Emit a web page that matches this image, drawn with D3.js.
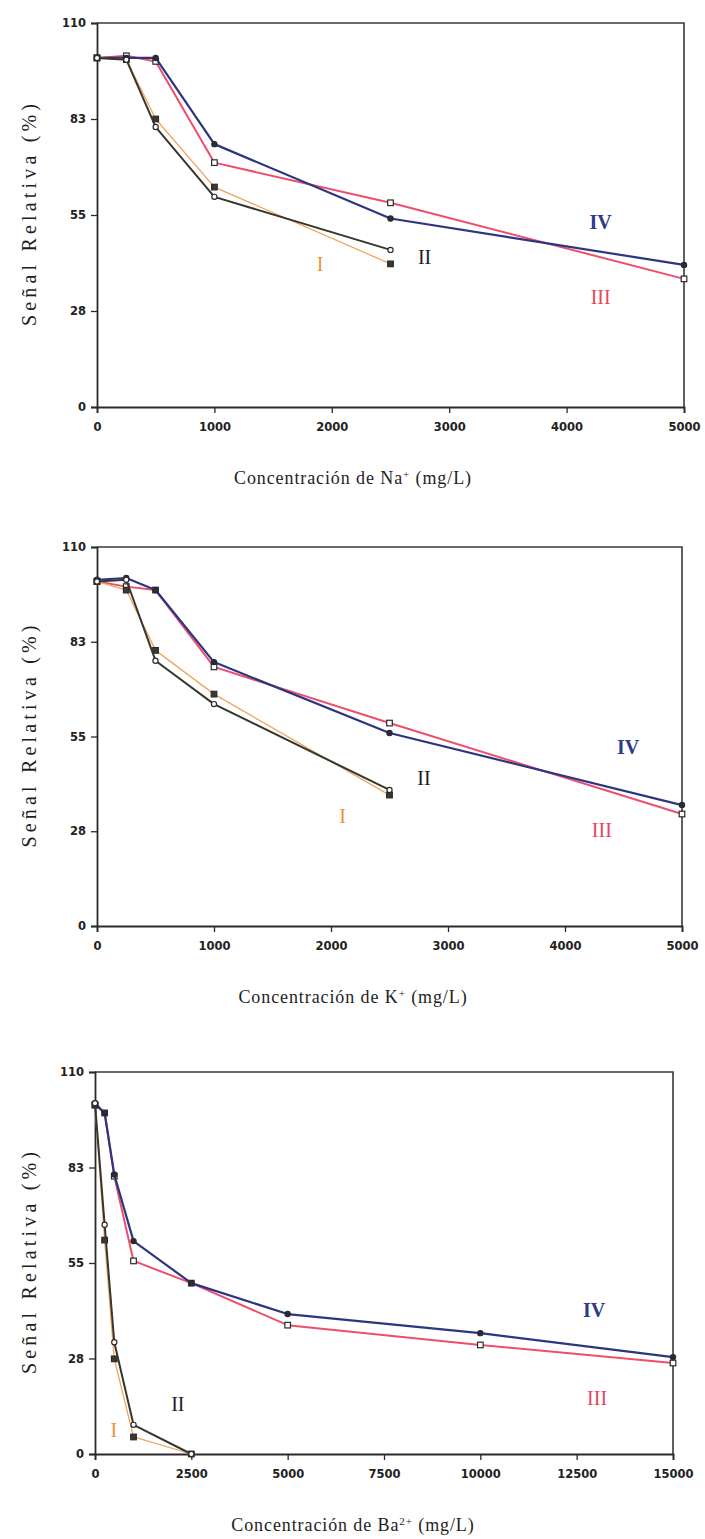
<!DOCTYPE html>
<html>
<head>
<meta charset="utf-8">
<script src="https://cdn.jsdelivr.net/npm/d3@7/dist/d3.min.js"></script>
<style>
  html, body { margin: 0; padding: 0; background: #ffffff; }
  svg { display: block; }
</style>
</head>
<body>
<script>
// Concentrations (mg/L)
const naConc = [0, 250, 500, 1000, 2500, 5000];
const kConc = [0, 250, 500, 1000, 2500, 5000];
const baConc = [0, 250, 500, 1000, 2500, 5000, 10000, 15000];

// Relative signal (%) for each condition I–IV
const naI = [100, 99.5, 82.5, 63, 41];
const naII = [100, 99.5, 80.2, 60.2, 45];
const naIII = [100, 100.6, 99, 70, 58.5, 36.7];
const naIV = [100, 100, 100, 75.3, 54, 40.7];

const kI = [100, 97.5, 80, 67.3, 38];
const kII = [100, 100.5, 77, 64.4, 39.5];
const kIII = [100, 98.5, 97.5, 75.2, 58.9, 32.5];
const kIV = [100.5, 101, 97.5, 76.6, 56, 35.1];

const baI = [100.5, 61.6, 27.4, 4.9, 0];
const baII = [101, 66, 32.2, 8.4, 0];
const baIII = [100.5, 98.2, 80, 55.6, 49.2, 37.1, 31.4, 26.2];
const baIV = [101, 98.2, 80.5, 61.3, 49.2, 40.3, 34.8, 27.9];

// Axis ticks
const yTickValues = [0, 27.5, 55, 82.5, 110];
const yTickLabels = ["0", "28", "55", "83", "110"];
const naTicks = [0, 1000, 2000, 3000, 4000, 5000];
const kTicks = [0, 1000, 2000, 3000, 4000, 5000];
const baTicks = [0, 2500, 5000, 7500, 10000, 12500, 15000];

const seriesNames = ["I", "II", "III", "IV"];

const W = 705, H = 1539;
const svg = d3.select("body").append("svg").attr("width", W).attr("height", H);

const style = {
  I:   { line: "#f2a45c", width: 1.3, marker: "square", fill: "#3a3a30", label: "#f0913a", weight: "normal" },
  II:  { line: "#35372f", width: 2.0, marker: "circle", fill: "#ffffff", label: "#1e1e1e", weight: "normal" },
  III: { line: "#ef4d6c", width: 2.0, marker: "square", fill: "#ffffff", label: "#e8455e", weight: "normal" },
  IV:  { line: "#2c3580", width: 2.2, marker: "circle", fill: "#2a2a3a", label: "#2e3a8c", weight: "bold" }
};

const panels = [
  {
    box: { left: 97, right: 684, top: 23, bottom: 407 },
    xMax: 5000, ticks: naTicks,
    series: { I: [naConc, naI], II: [naConc, naII], III: [naConc, naIII], IV: [naConc, naIV] },
    labels: { IV: [4290, 53], III: [4290, 31.5], II: [2790, 43], I: [1900, 41] },
    title: ["Concentración de Na", "+", " (mg/L)"]
  },
  {
    box: { left: 97, right: 682, top: 547, bottom: 926 },
    xMax: 5000, ticks: kTicks,
    series: { I: [kConc, kI], II: [kConc, kII], III: [kConc, kIII], IV: [kConc, kIV] },
    labels: { IV: [4540, 52], III: [4315, 28], II: [2795, 43], I: [2100, 32] },
    title: ["Concentración de K", "+", " (mg/L)"]
  },
  {
    box: { left: 95, right: 673, top: 1072, bottom: 1454 },
    xMax: 15000, ticks: baTicks,
    series: { I: [baConc, baI], II: [baConc, baII], III: [baConc, baIII], IV: [baConc, baIV] },
    labels: { IV: [12950, 41.5], III: [13030, 16], II: [2150, 14.4], I: [490, 6.9] },
    title: ["Concentración de Ba", "2+", " (mg/L)"]
  }
];

const tickFont = "DejaVu Sans, Verdana, sans-serif";
const serif = "Liberation Serif, Times New Roman, serif";

panels.forEach(p => {
  const b = p.box;
  const x = d3.scaleLinear().domain([0, p.xMax]).range([b.left, b.right]);
  const y = d3.scaleLinear().domain([0, 110]).range([b.bottom, b.top]);
  const g = svg.append("g");

  // frame: top and right edges
  g.append("path")
    .attr("d", `M${b.left},${b.top}H${b.right}V${b.bottom}`)
    .attr("fill", "none").attr("stroke", "#3a3a3a").attr("stroke-width", 1.6);

  // x axis
  const xAxis = g.append("g").attr("transform", `translate(0,${b.bottom})`)
    .call(d3.axisBottom(x).tickValues(p.ticks).tickSize(6).tickPadding(10).tickFormat(d3.format("d")));
  xAxis.select(".domain").attr("stroke", "#2a2a2a").attr("stroke-width", 1.8);
  xAxis.selectAll(".tick line").attr("stroke", "#2a2a2a").attr("stroke-width", 1.3);
  xAxis.selectAll("text").attr("font-family", tickFont)
    .attr("font-weight", "bold").attr("font-size", 11.5).attr("fill", "#222");

  // y axis
  const yAxis = g.append("g").attr("transform", `translate(${b.left},0)`)
    .call(d3.axisLeft(y).tickValues(yTickValues).tickSize(6).tickPadding(5)
      .tickFormat((d, i) => yTickLabels[i]));
  yAxis.select(".domain").attr("stroke", "#2a2a2a").attr("stroke-width", 1.8);
  yAxis.selectAll(".tick line").attr("stroke", "#2a2a2a").attr("stroke-width", 1.3);
  yAxis.selectAll("text").attr("font-family", tickFont)
    .attr("font-weight", "bold").attr("font-size", 11.5).attr("fill", "#222");

  const line = d3.line().x(d => x(d[0])).y(d => y(d[1]));

  // draw in order so I/II sit above III/IV where they overlap
  ["III", "IV", "I", "II"].forEach(name => {
    const [cx, vals] = p.series[name];
    const pts = vals.map((v, i) => [cx[i], v]);
    const s = style[name];
    g.append("path").datum(pts).attr("d", line)
      .attr("fill", "none").attr("stroke", s.line).attr("stroke-width", s.width)
      .attr("stroke-linejoin", "round");
    const mk = g.append("g");
    pts.forEach(d => {
      if (s.marker === "circle") {
        mk.append("circle").attr("cx", x(d[0])).attr("cy", y(d[1])).attr("r", 2.6)
          .attr("fill", s.fill).attr("stroke", "#2a2a2a").attr("stroke-width", 1.2);
      } else {
        mk.append("rect").attr("x", x(d[0]) - 2.8).attr("y", y(d[1]) - 2.8)
          .attr("width", 5.6).attr("height", 5.6)
          .attr("fill", s.fill).attr("stroke", "#2a2a2a").attr("stroke-width", 1.2);
      }
    });
  });

  // series labels
  seriesNames.forEach(name => {
    const [lx, ly] = p.labels[name];
    const s = style[name];
    g.append("text").attr("x", x(lx)).attr("y", y(ly))
      .attr("text-anchor", "middle").attr("dominant-baseline", "central")
      .attr("font-family", serif)
      .attr("font-size", 20).attr("font-weight", s.weight).attr("fill", s.label)
      .text(name);
  });

  // y axis title
  const cy = (b.top + b.bottom) / 2;
  g.append("text")
    .attr("transform", `translate(36,${cy}) rotate(-90)`)
    .attr("text-anchor", "middle")
    .attr("font-family", serif)
    .attr("font-size", 20).attr("fill", "#1e1e1e")
    .attr("textLength", 222).attr("lengthAdjust", "spacing")
    .text("Señal Relativa (%)");

  // x axis title with superscript charge
  const t = g.append("text")
    .attr("x", 353).attr("y", b.bottom + 77)
    .attr("text-anchor", "middle")
    .attr("font-family", serif)
    .attr("font-size", 18).attr("fill", "#1e1e1e")
    .attr("letter-spacing", 0.9);
  t.append("tspan").text(p.title[0]);
  t.append("tspan").attr("dy", -6).attr("font-size", 11).text(p.title[1]);
  t.append("tspan").attr("dy", 6).text(p.title[2]);
});
</script>
</body>
</html>
